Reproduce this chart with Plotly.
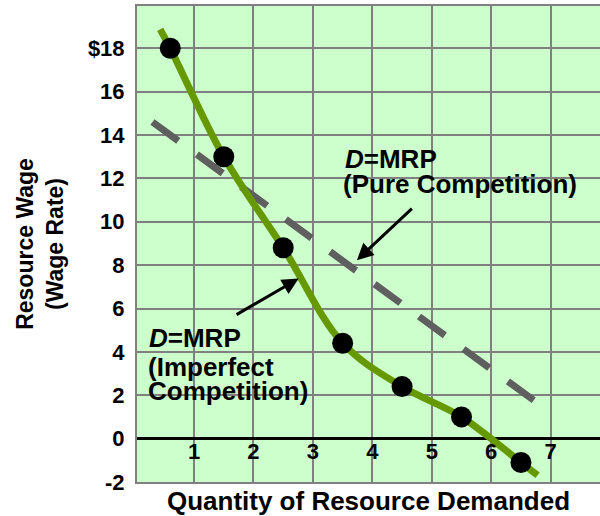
import plotly.graph_objects as go

# ---- data ----
imperfect_q = [0.6, 1.5, 2.5, 3.5, 4.5, 5.5, 6.5]
imperfect_w = [18.0, 13.0, 8.8, 4.4, 2.4, 1.0, -1.1]
curve_start_q, curve_start_w = 0.43, 18.87
curve_end_q, curve_end_w = 6.78, -1.69
pure_q = [0.3, 6.85]
pure_w = [14.6, 1.5]

x_tick_vals = [1, 2, 3, 4, 5, 6, 7]
x_tick_labels = ["1", "2", "3", "4", "5", "6", "7"]
y_tick_vals = [-2, 0, 2, 4, 6, 8, 10, 12, 14, 16, 18]
y_tick_labels = ["-2", "0", "2", "4", "6", "8", "10", "12", "14", "16", "$18"]

FONT = "Liberation Sans, Arial, Helvetica, sans-serif"

curve_q = [curve_start_q] + imperfect_q + [curve_end_q]
curve_w = [curve_start_w] + imperfect_w + [curve_end_w]

fig = go.Figure()

# pure competition demand (dashed)
fig.add_trace(go.Scatter(
    x=pure_q, y=pure_w, mode="lines",
    line=dict(color="#5f5f5f", width=7, dash="32px,23px"),
    hoverinfo="skip", showlegend=False))

# imperfect competition demand (smooth green)
fig.add_trace(go.Scatter(
    x=curve_q, y=curve_w, mode="lines",
    line=dict(color="#669900", width=7, shape="spline", smoothing=1.0),
    hoverinfo="skip", showlegend=False))

fig.add_trace(go.Scatter(
    x=imperfect_q, y=imperfect_w, mode="markers",
    marker=dict(color="black", size=21),
    hoverinfo="skip", showlegend=False))

# x tick labels drawn inside the plot, just below the zero line
fig.add_trace(go.Scatter(
    x=x_tick_vals, y=[-0.68] * len(x_tick_vals), mode="text",
    text=x_tick_labels, textposition="middle center",
    textfont=dict(family=FONT, size=22, color="black", weight="bold"),
    hoverinfo="skip", showlegend=False))

ann_font = dict(family=FONT, size=26, color="black", weight="bold")
annotations = [
    dict(x=3.5, y=12.9, text="<i>D</i>=MRP"),
    dict(x=3.48, y=11.75, text="(Pure Competition)"),
    dict(x=0.21, y=4.65, text="<i>D</i>=MRP"),
    dict(x=0.19, y=3.3, text="(Imperfect"),
    dict(x=0.19, y=2.2, text="Competition)"),
]
for a in annotations:
    a.update(xref="x", yref="y", xanchor="left", yanchor="middle",
             showarrow=False, font=ann_font)

arrows = [
    dict(x=3.74, y=8.23, ax=4.69, ay=10.67),
    dict(x=2.76, y=7.38, ax=1.69, ay=5.68),
]
for a in arrows:
    a.update(xref="x", yref="y", axref="x", ayref="y", text="",
             showarrow=True, arrowhead=2, arrowsize=1.1, arrowwidth=3,
             arrowcolor="black", standoff=0, startstandoff=0)

fig.update_layout(
    width=600, height=516,
    margin=dict(l=137, r=0, t=6, b=34, autoexpand=False),
    paper_bgcolor="white",
    plot_bgcolor="#ccffcc",
    font=dict(family=FONT, color="black", weight="bold"),
    annotations=annotations + arrows,
    xaxis=dict(
        range=[0.04, 7.83], automargin=False,
        tickvals=x_tick_vals, showticklabels=False,
        showgrid=True, gridcolor="#808080", gridwidth=2,
        zeroline=False,
        showline=True, linecolor="#808080", linewidth=2, mirror=True,
        title=dict(text="Quantity of Resource Demanded",
                   font=dict(family=FONT, size=26, weight="bold"),
                   standoff=10),
    ),
    yaxis=dict(
        range=[-2, 19.95], automargin=False,
        tickvals=y_tick_vals, ticktext=y_tick_labels,
        tickfont=dict(family=FONT, size=22, weight="bold"),
        ticks="outside", ticklen=6, tickcolor="rgba(0,0,0,0)",
        showgrid=True, gridcolor="#808080", gridwidth=2,
        zeroline=True, zerolinecolor="black", zerolinewidth=3,
        showline=True, linecolor="#808080", linewidth=2, mirror=True,
        title=dict(text="Resource Wage<br>(Wage Rate)",
                   font=dict(family=FONT, size=23, weight="bold"),
                   standoff=18),
    ),
)

fig.write_html(
    "out.html",
    config={"displayModeBar": False},
    post_script="document.body.style.margin='0';document.body.style.overflow='hidden';",
)
